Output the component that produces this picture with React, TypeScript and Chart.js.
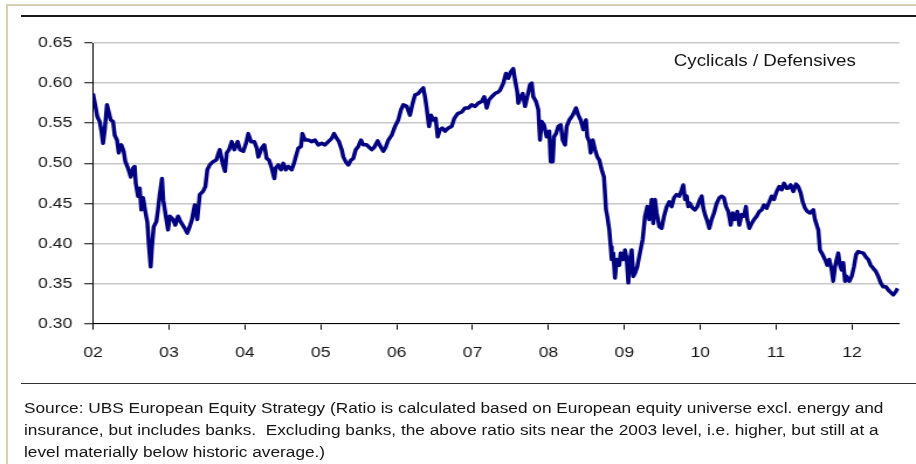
import React, { useEffect, useRef } from "react";
import { Chart, registerables } from "chart.js";

Chart.register(...registerables);

// ---- data ----
const baseYear = 2002;
const yearsSince2002 = [
  0.000, 0.040, 0.057, 0.088, 0.109, 0.132, 0.154, 0.184, 0.207, 0.233, 0.264, 0.286, 0.316, 0.339, 0.373, 0.404,
  0.426, 0.461, 0.497, 0.527, 0.549, 0.563, 0.593, 0.615, 0.636, 0.659, 0.689, 0.715, 0.734, 0.760, 0.777, 0.800,
  0.834, 0.856, 0.879, 0.909, 0.926, 0.953, 0.988, 1.011, 1.054, 1.084, 1.120, 1.155, 1.208, 1.242, 1.274, 1.304,
  1.340, 1.374, 1.406, 1.449, 1.480, 1.506, 1.538, 1.581, 1.624, 1.669, 1.713, 1.739, 1.762, 1.792, 1.827, 1.862,
  1.906, 1.937, 1.980, 2.016, 2.046, 2.082, 2.125, 2.157, 2.178, 2.223, 2.257, 2.288, 2.319, 2.354, 2.389, 2.407,
  2.441, 2.477, 2.507, 2.539, 2.573, 2.618, 2.648, 2.671, 2.705, 2.740, 2.758, 2.793, 2.837, 2.881, 2.925, 2.968,
  3.013, 3.057, 3.100, 3.145, 3.175, 3.211, 3.241, 3.277, 3.298, 3.329, 3.364, 3.399, 3.429, 3.461, 3.495, 3.531,
  3.561, 3.606, 3.627, 3.672, 3.706, 3.751, 3.781, 3.825, 3.856, 3.891, 3.935, 3.979, 4.022, 4.058, 4.088, 4.133,
  4.176, 4.207, 4.242, 4.286, 4.321, 4.352, 4.374, 4.396, 4.427, 4.453, 4.483, 4.515, 4.541, 4.572, 4.602, 4.638,
  4.681, 4.726, 4.760, 4.805, 4.858, 4.901, 4.945, 4.989, 5.033, 5.076, 5.121, 5.155, 5.187, 5.217, 5.253, 5.296,
  5.340, 5.362, 5.406, 5.441, 5.472, 5.503, 5.537, 5.560, 5.590, 5.603, 5.635, 5.661, 5.692, 5.722, 5.757, 5.780,
  5.801, 5.837, 5.867, 5.889, 5.912, 5.942, 5.977, 6.012, 6.030, 6.057, 6.074, 6.100, 6.130, 6.162, 6.188, 6.219,
  6.241, 6.275, 6.320, 6.364, 6.394, 6.425, 6.460, 6.495, 6.512, 6.539, 6.557, 6.584, 6.614, 6.644, 6.671, 6.702,
  6.732, 6.759, 6.776, 6.802, 6.821, 6.834, 6.855, 6.877, 6.900, 6.934, 6.952, 6.987, 7.009, 7.032, 7.053, 7.075,
  7.097, 7.119, 7.141, 7.171, 7.197, 7.242, 7.273, 7.303, 7.329, 7.361, 7.382, 7.404, 7.427, 7.461, 7.493, 7.523,
  7.559, 7.593, 7.624, 7.655, 7.690, 7.725, 7.756, 7.777, 7.800, 7.822, 7.843, 7.865, 7.901, 7.931, 7.962, 7.997,
  8.020, 8.041, 8.063, 8.086, 8.120, 8.151, 8.182, 8.217, 8.252, 8.283, 8.313, 8.340, 8.370, 8.402, 8.428, 8.458,
  8.489, 8.515, 8.547, 8.577, 8.603, 8.620, 8.647, 8.678, 8.709, 8.744, 8.779, 8.810, 8.840, 8.876, 8.910, 8.942,
  8.972, 9.008, 9.042, 9.074, 9.104, 9.139, 9.161, 9.192, 9.227, 9.262, 9.292, 9.324, 9.350, 9.381, 9.411, 9.446,
  9.490, 9.512, 9.535, 9.556, 9.578, 9.614, 9.644, 9.674, 9.701, 9.732, 9.753, 9.776, 9.798, 9.819, 9.842, 9.864,
  9.885, 9.908, 9.930, 9.964, 9.996, 10.026, 10.053, 10.083, 10.114, 10.149, 10.184, 10.215, 10.246, 10.280, 10.316, 10.346,
  10.378, 10.412, 10.448, 10.478, 10.510, 10.544, 10.576, 10.602,
];
const ratio = [
  0.587, 0.567, 0.558, 0.552, 0.541, 0.525, 0.541, 0.573, 0.564, 0.554, 0.552, 0.535, 0.529, 0.513, 0.523, 0.515,
  0.502, 0.494, 0.483, 0.494, 0.496, 0.475, 0.459, 0.469, 0.442, 0.457, 0.440, 0.427, 0.400, 0.371, 0.396, 0.421,
  0.427, 0.442, 0.461, 0.481, 0.454, 0.438, 0.417, 0.434, 0.430, 0.423, 0.434, 0.427, 0.419, 0.413, 0.421, 0.430,
  0.448, 0.430, 0.461, 0.465, 0.471, 0.492, 0.498, 0.502, 0.504, 0.517, 0.498, 0.490, 0.513, 0.517, 0.527, 0.517,
  0.527, 0.517, 0.515, 0.525, 0.537, 0.527, 0.527, 0.519, 0.508, 0.519, 0.523, 0.506, 0.504, 0.494, 0.481, 0.494,
  0.498, 0.492, 0.500, 0.492, 0.496, 0.492, 0.500, 0.508, 0.519, 0.521, 0.537, 0.529, 0.529, 0.527, 0.529, 0.523,
  0.525, 0.523, 0.527, 0.531, 0.537, 0.531, 0.527, 0.517, 0.508, 0.502, 0.498, 0.504, 0.506, 0.517, 0.521, 0.529,
  0.523, 0.523, 0.521, 0.517, 0.520, 0.528, 0.522, 0.515, 0.520, 0.529, 0.535, 0.546, 0.554, 0.567, 0.573, 0.571,
  0.560, 0.573, 0.585, 0.587, 0.591, 0.594, 0.583, 0.569, 0.546, 0.560, 0.554, 0.556, 0.533, 0.542, 0.544, 0.540,
  0.544, 0.546, 0.556, 0.562, 0.564, 0.569, 0.569, 0.573, 0.571, 0.575, 0.577, 0.583, 0.569, 0.579, 0.583, 0.587,
  0.589, 0.591, 0.600, 0.612, 0.606, 0.614, 0.618, 0.604, 0.589, 0.575, 0.583, 0.587, 0.571, 0.583, 0.598, 0.600,
  0.583, 0.577, 0.567, 0.529, 0.552, 0.548, 0.533, 0.540, 0.502, 0.502, 0.533, 0.537, 0.546, 0.548, 0.529, 0.523,
  0.546, 0.554, 0.560, 0.569, 0.560, 0.554, 0.542, 0.554, 0.533, 0.527, 0.513, 0.529, 0.517, 0.508, 0.504, 0.492,
  0.483, 0.442, 0.434, 0.417, 0.396, 0.380, 0.388, 0.357, 0.380, 0.373, 0.388, 0.380, 0.392, 0.380, 0.351, 0.380,
  0.392, 0.359, 0.363, 0.371, 0.384, 0.405, 0.434, 0.446, 0.430, 0.455, 0.425, 0.455, 0.438, 0.421, 0.419, 0.434,
  0.446, 0.452, 0.446, 0.457, 0.461, 0.459, 0.467, 0.473, 0.455, 0.459, 0.446, 0.450, 0.444, 0.442, 0.446, 0.455,
  0.459, 0.444, 0.436, 0.430, 0.419, 0.430, 0.438, 0.450, 0.457, 0.459, 0.457, 0.446, 0.440, 0.423, 0.438, 0.430,
  0.440, 0.423, 0.436, 0.434, 0.446, 0.430, 0.419, 0.425, 0.430, 0.434, 0.440, 0.442, 0.448, 0.444, 0.452, 0.459,
  0.455, 0.465, 0.471, 0.467, 0.475, 0.469, 0.469, 0.473, 0.465, 0.474, 0.471, 0.463, 0.452, 0.444, 0.440, 0.438,
  0.442, 0.430, 0.423, 0.417, 0.392, 0.386, 0.380, 0.373, 0.380, 0.367, 0.353, 0.371, 0.380, 0.388, 0.373, 0.367,
  0.376, 0.353, 0.359, 0.353, 0.359, 0.371, 0.386, 0.390, 0.389, 0.388, 0.383, 0.380, 0.373, 0.369, 0.365, 0.359,
  0.351, 0.346, 0.346, 0.342, 0.339, 0.336, 0.340, 0.344,
];
const yearTicks = [2002, 2003, 2004, 2005, 2006, 2007, 2008, 2009, 2010, 2011, 2012];
const valueTicks = [0.3, 0.35, 0.4, 0.45, 0.5, 0.55, 0.6, 0.65];
const xMax = 2012.623;
const seriesLabel = "Cyclicals / Defensives";
const captionLines = [
  "Source: UBS European Equity Strategy (Ratio is calculated based on European equity universe excl. energy and",
  "insurance, but includes banks.  Excluding banks, the above ratio sits near the 2003 level, i.e. higher, but still at a",
  "level materially below historic average.)",
];

// ---- layout ----
const INNER_W = 783; // drawn width, stretched horizontally to 916
const SX = 916 / INNER_W;
const FONT = "'Liberation Sans', Arial, Helvetica, sans-serif";

export default function App() {
  const canvasRef = useRef<HTMLCanvasElement | null>(null);

  useEffect(() => {
    const canvas = canvasRef.current;
    if (!canvas) return;
    const points = yearsSince2002.map((t, i) => ({ x: baseYear + t, y: ratio[i] }));
    const chart = new Chart(canvas, {
      type: "line",
      data: {
        datasets: [
          {
            label: seriesLabel,
            data: points,
            borderColor: "#000080",
            backgroundColor: "#000080",
            borderWidth: 3.5,
            pointRadius: 0,
            tension: 0,
            borderJoinStyle: "round",
          },
        ],
      },
      options: {
        animation: false,
        responsive: false,
        devicePixelRatio: 1,
        layout: { padding: { left: 0, top: 43, right: 14.3, bottom: 100.3 } },
        plugins: { legend: { display: false }, tooltip: { enabled: false } },
        scales: {
          x: {
            type: "linear",
            min: baseYear,
            max: xMax,
            afterBuildTicks: (s: any) => {
              s.ticks = yearTicks.map((v) => ({ value: v }));
            },
            afterFit: (s: any) => {
              s.height = 40;
            },
            ticks: {
              callback: (v: any) => String(v).slice(2),
              color: "#151515",
              font: { family: FONT, size: 15 },
              padding: 14,
              maxRotation: 0,
              autoSkip: false,
            },
            grid: { drawOnChartArea: false, drawTicks: true, tickLength: 6, tickColor: "#000", tickWidth: 1 },
            border: { color: "#000", width: 1 },
          },
          y: {
            min: 0.3,
            max: 0.65,
            afterBuildTicks: (s: any) => {
              s.ticks = valueTicks.map((v) => ({ value: v }));
            },
            afterFit: (s: any) => {
              s.width = 79.5;
            },
            ticks: {
              callback: (v: any) => Number(v).toFixed(2),
              color: "#151515",
              font: { family: FONT, size: 15 },
              padding: 10.3,
            },
            grid: { color: "#c8c8c8", lineWidth: 1.5, tickColor: "#000", tickLength: 7.4, tickWidth: 1 },
            border: { color: "#000", width: 1 },
          },
        },
      },
    });
    return () => chart.destroy();
  }, []);

  return (
    <div style={{ position: "absolute", left: 0, top: 0, width: 916, height: 464, background: "#fff", overflow: "hidden" }}>
      {/* frame lines */}
      <div style={{ position: "absolute", left: 6, top: 4, width: 910, height: 2, background: "#d9cfb4" }} />
      <div style={{ position: "absolute", left: 6, top: 4, width: 2, height: 460, background: "#d9cfb4" }} />
      <div style={{ position: "absolute", left: 21, top: 15, width: 895, height: 1.5, background: "#1a1a1a" }} />
      <div style={{ position: "absolute", left: 21, top: 382.5, width: 895, height: 1.5, background: "#333" }} />
      {/* stretched layer */}
      <div
        style={{
          position: "absolute",
          left: 0,
          top: 0,
          width: INNER_W,
          height: 464,
          transform: `scaleX(${SX})`,
          transformOrigin: "0 0",
        }}
      >
        <canvas ref={canvasRef} width={INNER_W} height={464} style={{ position: "absolute", left: 0, top: 0 }} />
        <div
          style={{
            position: "absolute",
            left: 576,
            top: 52.5,
            fontFamily: FONT,
            fontSize: 16,
            lineHeight: "16px",
            color: "#151515",
            whiteSpace: "nowrap",
          }}
        >
          {seriesLabel}
        </div>
        <div
          style={{
            position: "absolute",
            left: 20.5,
            top: 397,
            fontFamily: FONT,
            fontSize: 14.75,
            lineHeight: "22px",
            color: "#151515",
            whiteSpace: "nowrap",
          }}
        >
          {captionLines.map((l, i) => (
            <div key={i} style={{ whiteSpace: "pre" }}>
              {l}
            </div>
          ))}
        </div>
      </div>
    </div>
  );
}
